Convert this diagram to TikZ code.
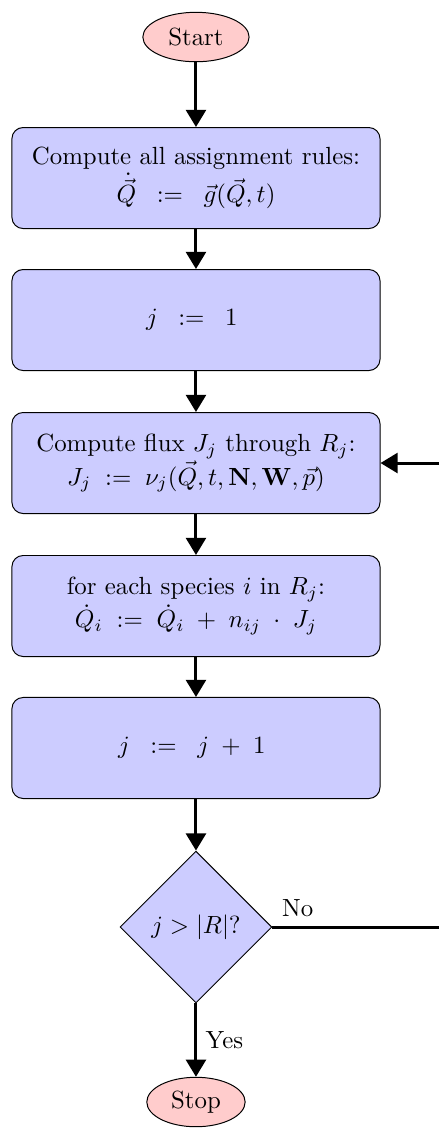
\documentclass[tikz,border=0pt]{standalone}
\usepackage{amsmath}
\usepackage{amssymb}
\usepackage{tikz}
\usetikzlibrary{arrows.meta,calc,positioning,shapes.geometric}

\begin{document}
\begin{tikzpicture}[
      block/.style={draw, rounded corners=4.5pt, align=center, fill=blue!20,
        minimum width=5.21cm, minimum height=1.43cm, inner sep=4pt},
      term/.style={draw, ellipse, fill=red!20, inner xsep=4pt, inner ysep=1.5pt,
        minimum height=0.7cm},
      decide/.style={draw, diamond, aspect=1, fill=blue!20, minimum size=2.15cm,
        inner sep=0pt},
      line/.style={draw, very thick, -{Triangle[length=6.9pt,width=8pt]}}
    ]
    \useasboundingbox (0,0) rectangle (6.2,-15.967);
    \node[term] (start) at (2.774,-0.524) {Start};
    \node[block] (rules) at (2.774,-2.520) {
      Compute all assignment rules:\\
      \(\dot{\vec{Q}} \;\;:=\;\; \vec{g}(\vec{Q},t)\)
    };
    \node[block] (init) at (2.774,-4.530) {
      \(j \;\;:=\;\; 1\)
    };
    \node[block] (flux) at (2.774,-6.554) {
      Compute flux \(J_j\) through \(R_j\):\\
      \(J_j \;:=\; \nu_j(\vec{Q},t,\mathbf{N},\mathbf{W},\vec{p})\)
    };
    \node[block] (species) at (2.774,-8.578) {
      for each species \(i\) in \(R_j\):\\
      \(\dot{Q}_i \;:=\; \dot{Q}_i \;+\; n_{ij} \;\cdot\; J_j\)
    };
    \node[block] (incr) at (2.774,-10.588) {
      \(j \;\;:=\;\; j \;+\; 1\)
    };
    \node[decide] (test) at (2.774,-13.122) {\(j > |R|?\)};
    \node[term] (stop) at (2.774,-15.599) {Stop};
    \coordinate (loop) at (6.3,-13.122);

    \path[line] (start) -- (rules);
    \path[line] (rules) -- (init);
    \path[line] (init) -- (flux);
    \path[line] (flux) -- (species);
    \path[line] (species) -- (incr);
    \path[line] (incr) -- (test);
    \path[line] (test) -- node[right] {Yes} (stop);
    \path[line] (test.east) -- node[pos=0, above right] {No} (loop)
      -- (loop |- flux.east) -- (flux.east);
  \end{tikzpicture}
\end{document}
